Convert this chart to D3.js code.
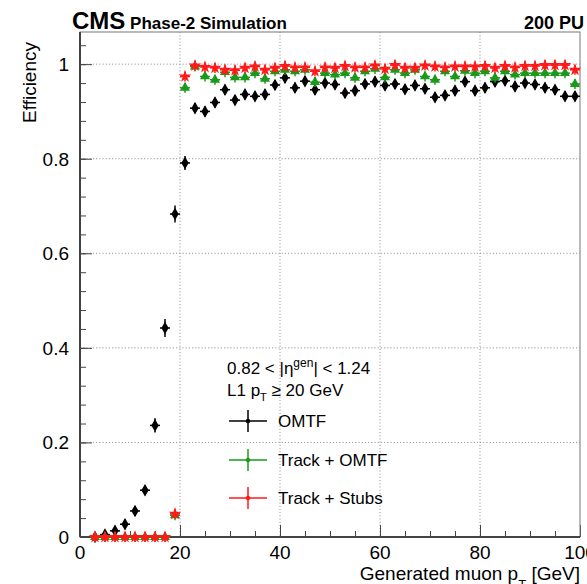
<!DOCTYPE html>
<html>
<head>
<meta charset="utf-8">
<script src="https://cdn.jsdelivr.net/npm/d3@7"></script>
<style>
  body { margin: 0; background: #fff; }
  text { font-family: "Liberation Sans", Arial, Helvetica, sans-serif; }
</style>
</head>
<body>
<div id="chart"></div>
<script>
// bin centres (GeV)
const ptBins = [3, 5, 7, 9, 11, 13, 15, 17, 19, 21, 23, 25, 27, 29, 31, 33, 35, 37, 39, 41,
  43, 45, 47, 49, 51, 53, 55, 57, 59, 61, 63, 65, 67, 69, 71, 73, 75, 77, 79, 81,
  83, 85, 87, 89, 91, 93, 95, 97, 99];

const omtf = [0.0, 0.005, 0.013, 0.027, 0.055, 0.099, 0.236, 0.442, 0.683, 0.791,
  0.907, 0.900, 0.919, 0.946, 0.924, 0.936, 0.932, 0.936, 0.956, 0.971,
  0.950, 0.964, 0.946, 0.960, 0.957, 0.939, 0.944, 0.958, 0.963, 0.955,
  0.958, 0.947, 0.955, 0.948, 0.930, 0.934, 0.944, 0.963, 0.944, 0.950,
  0.963, 0.965, 0.953, 0.960, 0.957, 0.950, 0.946, 0.932, 0.932];
const omtfErr = [0.001, 0.003, 0.004, 0.006, 0.008, 0.010, 0.015, 0.019, 0.018, 0.015,
  0.011, 0.011, 0.010, 0.009, 0.010, 0.010, 0.010, 0.010, 0.009, 0.008,
  0.009, 0.008, 0.009, 0.009, 0.009, 0.009, 0.009, 0.009, 0.008, 0.009,
  0.009, 0.009, 0.009, 0.009, 0.010, 0.010, 0.009, 0.008, 0.009, 0.009,
  0.008, 0.008, 0.009, 0.009, 0.009, 0.009, 0.009, 0.010, 0.010];

const trackOmtf = [0, 0, 0, 0, 0, 0, 0, 0, 0.046, 0.950,
  0.995, 0.974, 0.967, 0.983, 0.972, 0.972, 0.981, 0.969, 0.985, 0.988,
  0.985, 0.988, 0.962, 0.981, 0.978, 0.981, 0.971, 0.985, 0.990, 0.972,
  0.988, 0.981, 0.988, 0.974, 0.967, 0.985, 0.974, 0.986, 0.981, 0.985,
  0.971, 0.985, 0.978, 0.981, 0.981, 0.981, 0.981, 0.981, 0.958];
const trackOmtfErr = [0.001, 0.001, 0.001, 0.001, 0.001, 0.001, 0.001, 0.001, 0.006, 0.008,
  0.004, 0.006, 0.006, 0.005, 0.006, 0.006, 0.005, 0.006, 0.005, 0.004,
  0.005, 0.004, 0.006, 0.005, 0.005, 0.005, 0.006, 0.005, 0.004, 0.006,
  0.005, 0.005, 0.005, 0.006, 0.006, 0.005, 0.006, 0.005, 0.005, 0.005,
  0.006, 0.005, 0.005, 0.005, 0.005, 0.005, 0.005, 0.005, 0.007];

const trackStubs = [0, 0, 0, 0, 0, 0, 0, 0, 0.049, 0.974,
  0.997, 0.994, 0.992, 0.988, 0.987, 0.992, 0.995, 0.988, 0.992, 0.996,
  0.993, 0.993, 0.985, 0.993, 0.992, 0.996, 0.993, 0.993, 0.997, 0.990,
  0.998, 0.992, 0.992, 0.997, 0.995, 0.993, 0.995, 0.995, 0.995, 0.996,
  0.992, 0.996, 0.993, 0.996, 0.996, 0.998, 0.998, 0.998, 0.988];
const trackStubsErr = [0.001, 0.001, 0.001, 0.001, 0.001, 0.001, 0.001, 0.001, 0.006, 0.006,
  0.002, 0.003, 0.003, 0.004, 0.004, 0.003, 0.003, 0.004, 0.003, 0.002,
  0.003, 0.003, 0.004, 0.003, 0.003, 0.002, 0.003, 0.003, 0.002, 0.003,
  0.002, 0.003, 0.003, 0.002, 0.003, 0.003, 0.003, 0.003, 0.003, 0.002,
  0.003, 0.002, 0.003, 0.002, 0.002, 0.002, 0.002, 0.002, 0.004];

const binHalfWidth = 1;
const xTicks = [0, 20, 40, 60, 80, 100];
const yTicks = [0, 0.2, 0.4, 0.6, 0.8, 1];
const yTickLabels = ["0", "0.2", "0.4", "0.6", "0.8", "1"];

const width = 587;
const height = 584;
const frame = { left: 80, right: 580, top: 32, bottom: 537 };

const svg = d3
  .select("#chart")
  .append("svg")
  .attr("width", width)
  .attr("height", height);

const x = d3.scaleLinear().domain([0, 100]).range([frame.left, frame.right]);
const y = d3.scaleLinear().domain([0, 1.068]).range([frame.bottom, frame.top]);

// grid (dotted)
const grid = svg.append("g").attr("stroke", "#9a9a9a").attr("stroke-width", 1)
  .attr("stroke-dasharray", "1.2,2");
grid.selectAll(".gx")
  .data(xTicks.slice(1, -1))
  .enter()
  .append("line")
  .attr("x1", (d) => x(d)).attr("x2", (d) => x(d))
  .attr("y1", frame.top).attr("y2", frame.bottom);
grid.selectAll(".gy")
  .data(yTicks.slice(1))
  .enter()
  .append("line")
  .attr("x1", frame.left).attr("x2", frame.right)
  .attr("y1", (d) => y(d)).attr("y2", (d) => y(d));

// axes: ticks pointing inwards, ROOT style
const xAxis = d3.axisTop(x).tickValues(xTicks).tickSize(12).tickFormat("");
const xMinor = d3.axisTop(x).ticks(20).tickSize(6).tickFormat("");
const yAxis = d3.axisRight(y).tickValues(yTicks).tickSize(12).tickFormat("");
const yMinor = d3.axisRight(y).tickValues(d3.range(0, 1.06, 0.04)).tickSize(6).tickFormat("");

[xAxis, xMinor].forEach((ax) => {
  svg.append("g")
    .attr("transform", `translate(0, ${frame.bottom})`)
    .call(ax)
    .call((g) => g.select(".domain").remove())
    .selectAll("line").attr("stroke", "#444");
});
[yAxis, yMinor].forEach((ax) => {
  svg.append("g")
    .attr("transform", `translate(${frame.left}, 0)`)
    .call(ax)
    .call((g) => g.select(".domain").remove())
    .selectAll("line").attr("stroke", "#444");
});

// frame
svg.append("rect")
  .attr("x", frame.left).attr("y", frame.top)
  .attr("width", frame.right - frame.left)
  .attr("height", frame.bottom - frame.top)
  .attr("fill", "none").attr("stroke", "#777").attr("stroke-width", 1);
svg.append("line")
  .attr("x1", frame.left).attr("x2", frame.right)
  .attr("y1", frame.bottom).attr("y2", frame.bottom)
  .attr("stroke", "#444").attr("stroke-width", 2);
svg.append("line")
  .attr("x1", frame.left).attr("x2", frame.left)
  .attr("y1", frame.top).attr("y2", frame.bottom)
  .attr("stroke", "#444").attr("stroke-width", 2);

// tick labels
svg.selectAll(".xlab")
  .data(xTicks)
  .enter()
  .append("text")
  .attr("x", (d) => x(d))
  .attr("y", 559)
  .attr("text-anchor", "middle")
  .style("font-size", "19px")
  .text((d) => d);
svg.selectAll(".ylab")
  .data(yTicks)
  .enter()
  .append("text")
  .attr("x", 69)
  .attr("y", (d) => y(d) + 7)
  .attr("text-anchor", "end")
  .style("font-size", "19px")
  .text((d, i) => yTickLabels[i]);

// axis titles
const xTitle = svg.append("text")
  .attr("x", 580).attr("y", 580)
  .attr("text-anchor", "end")
  .style("font-size", "19px");
xTitle.append("tspan").text("Generated muon p");
xTitle.append("tspan").attr("dy", 9).style("font-size", "13px").text("T");
xTitle.append("tspan").attr("dy", -9).text(" [GeV]");

svg.append("text")
  .attr("transform", "translate(36, 42) rotate(-90)")
  .attr("text-anchor", "end")
  .style("font-size", "19px")
  .text("Efficiency");

// header
const header = svg.append("text").attr("x", 72).attr("y", 29).style("font-weight", "bold");
header.append("tspan").style("font-size", "24px").text("CMS");
header.append("tspan").style("font-size", "17px").text(" Phase-2 Simulation");
svg.append("text")
  .attr("x", 584).attr("y", 29)
  .attr("text-anchor", "end")
  .style("font-weight", "bold")
  .style("font-size", "18px")
  .text("200 PU");

// marker shapes
const markers = {
  omtf: d3.symbol().type(d3.symbolDiamond).size(46),
  track: d3.symbol().type(d3.symbolTriangle).size(44),
  stubs: d3.symbol().type(d3.symbolStar).size(50),
};

const series = [
  { name: "OMTF", values: omtf, errs: omtfErr, color: "#000000", marker: markers.omtf },
  { name: "Track + OMTF", values: trackOmtf, errs: trackOmtfErr, color: "#1a9a1a", marker: markers.track },
  { name: "Track + Stubs", values: trackStubs, errs: trackStubsErr, color: "#ff1a1a", marker: markers.stubs },
];

series.forEach((s) => {
  const pts = ptBins.map((pt, i) => ({ pt: pt, v: s.values[i], e: s.errs[i] }));
  const g = svg.append("g").attr("stroke", s.color).attr("fill", s.color);
  // horizontal bars (bin width)
  g.selectAll(".hbar")
    .data(pts)
    .enter()
    .append("line")
    .attr("x1", (d) => x(d.pt - binHalfWidth))
    .attr("x2", (d) => x(d.pt + binHalfWidth))
    .attr("y1", (d) => y(d.v))
    .attr("y2", (d) => y(d.v))
    .attr("stroke-width", 1.5);
  // vertical error bars
  g.selectAll(".vbar")
    .data(pts)
    .enter()
    .append("line")
    .attr("x1", (d) => x(d.pt))
    .attr("x2", (d) => x(d.pt))
    .attr("y1", (d) => Math.max(y(d.v) + 5, y(d.v - d.e)))
    .attr("y2", (d) => Math.min(y(d.v) - 5, y(d.v + d.e)))
    .attr("stroke-width", 1.5);
  g.selectAll(".mk")
    .data(pts)
    .enter()
    .append("path")
    .attr("d", s.marker)
    .attr("stroke", "none")
    .attr("transform", (d) => `translate(${x(d.pt)}, ${y(d.v)})`);
});

// legend
const legendText = svg.append("g").style("font-size", "17px");
const eta = legendText.append("text").attr("x", 227).attr("y", 374);
eta.append("tspan").text("0.82 < |η");
eta.append("tspan").attr("dy", -7).style("font-size", "12px").text("gen");
eta.append("tspan").attr("dy", 7).text("| < 1.24");
const l1 = legendText.append("text").attr("x", 227).attr("y", 396);
l1.append("tspan").text("L1 p");
l1.append("tspan").attr("dy", 5).style("font-size", "11px").text("T");
l1.append("tspan").attr("dy", -5).text(" ≥ 20 GeV");

const legendRows = [421, 460, 498];
const legend = svg.selectAll(".legend-item")
  .data(series)
  .enter()
  .append("g")
  .attr("class", "legend-item")
  .attr("transform", (d, i) => `translate(248, ${legendRows[i]})`);
legend.append("line")
  .attr("x1", -19).attr("x2", 19).attr("y1", 0).attr("y2", 0)
  .attr("stroke", (d) => d.color).attr("stroke-width", 1.5);
legend.append("line")
  .attr("x1", 0).attr("x2", 0).attr("y1", -11).attr("y2", 11)
  .attr("stroke", (d) => d.color).attr("stroke-width", 1.5);
legend.append("circle")
  .attr("r", 2.2)
  .attr("fill", (d) => d.color);
legend.append("text")
  .attr("x", 30)
  .attr("y", 6)
  .style("font-size", "17px")
  .text((d) => d.name);
</script>
</body>
</html>
